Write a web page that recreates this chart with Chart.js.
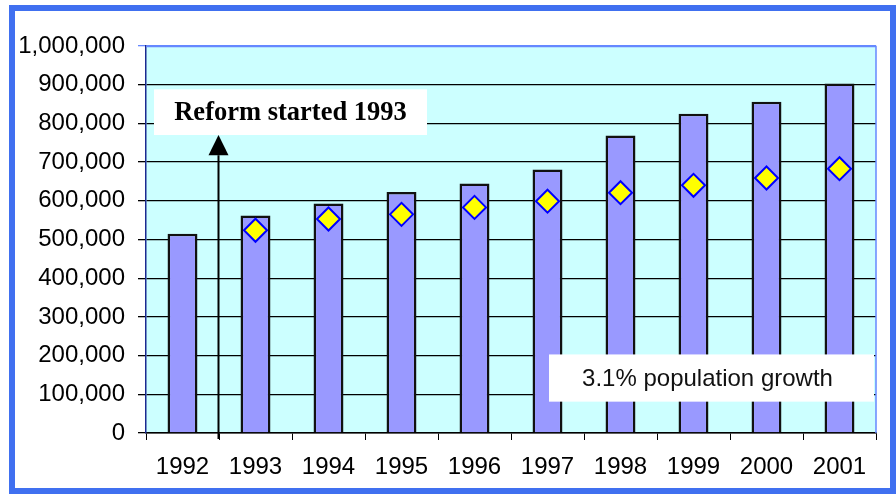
<!DOCTYPE html>
<html>
<head>
<meta charset="utf-8">
<script src="https://cdn.jsdelivr.net/npm/chart.js@4"></script>
<style>
  html, body { margin: 0; padding: 0; background: #fff; }
  #wrap { position: absolute; left: 0; top: 0; width: 896px; height: 494px; }
</style>
</head>
<body>
<div id="wrap"><canvas id="chart" width="896" height="494"></canvas></div>
<script>
// data
const years = ["1992","1993","1994","1995","1996","1997","1998","1999","2000","2001"];
const actual = [515000, 562000, 593000, 623000, 645000, 681000, 769000, 825000, 856000, 903000];
const growth = [null, 524000, 553000, 565000, 583000, 599000, 621000, 640000, 659000, 683000];
const reformText = "Reform started 1993";
const growthText = "3.1% population growth";

// background, plot fill, outer frame, plot frame
const decor = {
    id: "decor",
    beforeDraw(chart) {
        const ctx = chart.ctx;
        const a = chart.chartArea;
        ctx.save();
        ctx.fillStyle = "#ffffff";
        ctx.fillRect(0, 0, chart.width, chart.height);
        ctx.fillStyle = "#ccffff";
        ctx.fillRect(a.left, a.top, a.right - a.left, a.bottom - a.top);
        ctx.restore();
    },
    beforeDatasetsDraw(chart) {
        const ctx = chart.ctx;
        const a = chart.chartArea;
        const y = chart.scales.y;
        ctx.save();
        // right and top frame of the plot
        ctx.strokeStyle = "#6688ff";
        ctx.lineWidth = 1.5;
        ctx.beginPath();
        ctx.moveTo(a.left, a.top + 0.5);
        ctx.lineTo(a.right, a.top + 0.5);
        ctx.lineTo(a.right, a.bottom);
        ctx.stroke();

        // reform label box and arrow
        const bx = a.left + 8;
        const bTop = y.getPixelForValue(888000);
        const bBot = y.getPixelForValue(770000);
        ctx.fillStyle = "#ffffff";
        ctx.fillRect(bx, bTop, 273, bBot - bTop);
        ctx.fillStyle = "#000";
        ctx.font = "bold 26.5px 'Liberation Serif', 'Times New Roman', serif";
        ctx.textAlign = "center";
        ctx.textBaseline = "middle";
        ctx.fillText(reformText, bx + 273 / 2, (bTop + bBot) / 2 + 1);

        const ax = (chart.scales.x.getPixelForValue(0) + chart.scales.x.getPixelForValue(1)) / 2 - 0.5;
        const tip = bBot;
        const base = y.getPixelForValue(718000);
        ctx.strokeStyle = "#000";
        ctx.lineWidth = 2;
        ctx.beginPath();
        ctx.moveTo(ax, a.bottom + 6);
        ctx.lineTo(ax, base);
        ctx.stroke();
        ctx.beginPath();
        ctx.moveTo(ax, tip);
        ctx.lineTo(ax - 10, base);
        ctx.lineTo(ax + 10, base);
        ctx.closePath();
        ctx.fill();
        ctx.restore();
    },
    afterDatasetsDraw(chart) {
        const ctx = chart.ctx;
        const a = chart.chartArea;
        const y = chart.scales.y;
        ctx.save();
        const t = y.getPixelForValue(203000);
        const b = y.getPixelForValue(81000);
        const right = a.right - 2;
        const left = right - 325;
        ctx.fillStyle = "#ffffff";
        ctx.fillRect(left, t, right - left, b - t);
        ctx.fillStyle = "#111";
        ctx.font = "24px 'Liberation Sans', Arial, sans-serif";
        ctx.textAlign = "center";
        ctx.textBaseline = "middle";
        ctx.fillText(growthText, (left + right) / 2 - 4, (t + b) / 2 + 1);
        ctx.restore();
    },
    afterDraw(chart) {
        const ctx = chart.ctx;
        ctx.save();
        ctx.strokeStyle = "#4070f0";
        ctx.lineWidth = 6;
        ctx.strokeRect(12, 8, 881, 483);
        ctx.restore();
    }
};

new Chart(document.getElementById("chart"), {
    type: "bar",
    data: {
        labels: years,
        datasets: [
            {
                type: "line",
                label: "Growth",
                data: growth,
                showLine: false,
                pointStyle: "rectRot",
                pointRadius: 11.5,
                pointBackgroundColor: "#ffff00",
                pointBorderColor: "#0000ff",
                pointBorderWidth: 2,
                order: 0
            },
            {
                label: "Population",
                data: actual,
                backgroundColor: "#9999ff",
                borderColor: "#111111",
                borderWidth: 2.5,
                categoryPercentage: 1,
                barPercentage: 0.41,
                order: 1
            }
        ]
    },
    options: {
        responsive: false,
        animation: false,
        layout: { padding: { top: 46, right: 20, bottom: 0, left: 0 } },
        plugins: {
            legend: { display: false },
            tooltip: { enabled: false }
        },
        scales: {
            x: {
                offset: true,
                grid: {
                    offset: true,
                    drawOnChartArea: false,
                    color: "#000",
                    tickLength: 7
                },
                border: { color: "#000", width: 1.5 },
                ticks: {
                    color: "#000",
                    padding: 13,
                    font: { family: "'Liberation Sans', Arial, sans-serif", size: 24 }
                },
                afterFit(s) { s.height = 61; }
            },
            y: {
                min: 0,
                max: 1000000,
                ticks: {
                    stepSize: 100000,
                    color: "#000",
                    padding: 13,
                    font: { family: "'Liberation Sans', Arial, sans-serif", size: 24 },
                    callback: v => v.toLocaleString("en-US")
                },
                grid: {
                    color: ctx => ctx.tick && ctx.tick.value === 1000000 ? "#6688ff" : "#000",
                    tickLength: 8,
                    lineWidth: 1.3
                },
                border: { color: "#1a2a90", width: 1.5 },
                afterFit(s) { s.width = 146; }
            }
        }
    },
    plugins: [decor]
});
</script>
</body>
</html>
